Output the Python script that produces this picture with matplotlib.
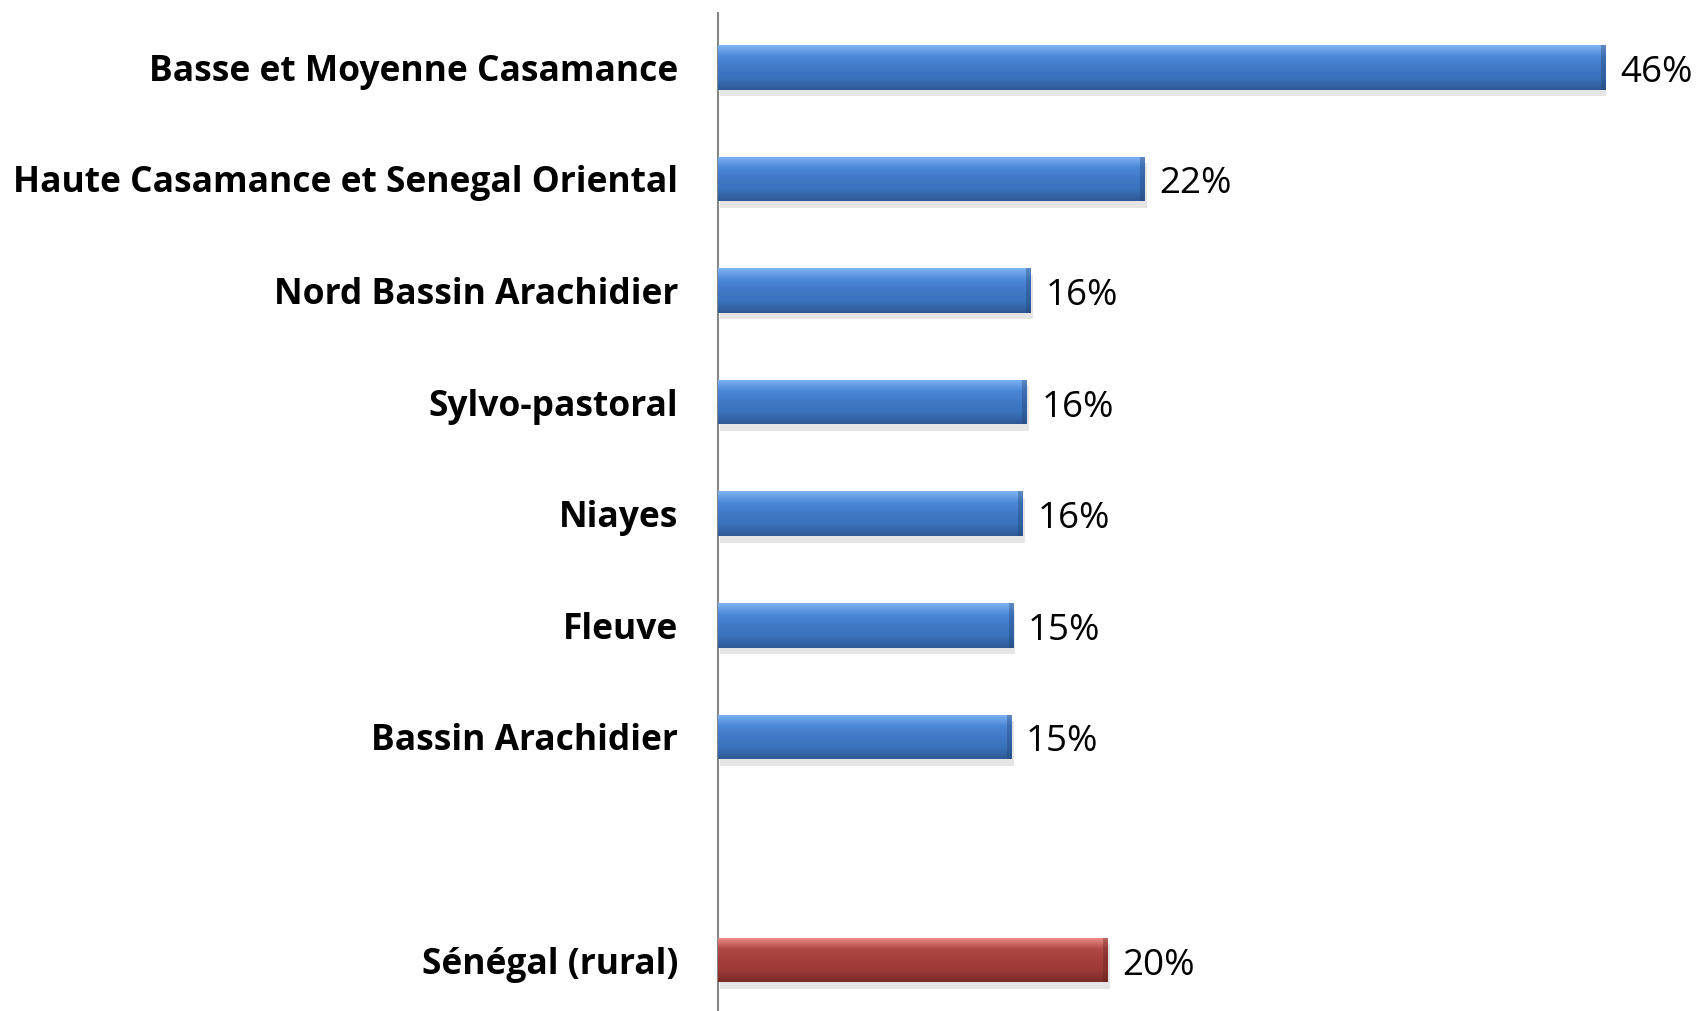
import matplotlib
matplotlib.use("Agg")
import matplotlib.pyplot as plt
import numpy as np
from matplotlib.colors import LinearSegmentedColormap
from matplotlib.patches import Rectangle

categories = ["Basse et Moyenne Casamance", "Haute Casamance et Senegal Oriental",
              "Nord Bassin Arachidier", "Sylvo-pastoral", "Niayes", "Fleuve",
              "Bassin Arachidier", "Sénégal (rural)"]
values = [46.0, 22.1, 16.2, 16.0, 15.8, 15.3, 15.2, 20.2]
labels = ["46%", "22%", "16%", "16%", "16%", "15%", "15%", "20%"]
positions = [0, 1, 2, 3, 4, 5, 6, 8]
is_total = [False] * 7 + [True]

fig = plt.figure(figsize=(16.99, 10.11), dpi=100)
ax = fig.add_axes([0.4228, 0.0, 0.9452 - 0.4228, 0.987])

blue_cmap = LinearSegmentedColormap.from_list("b", ["#7DB4F2", "#4C88D8", "#4079C6", "#3A72BA", "#2E5A96"])
red_cmap = LinearSegmentedColormap.from_list("r", ["#F0908C", "#B14B48", "#A33E3B", "#9C3A37", "#7A2A28"])

h = 0.40
grad = np.linspace(0, 1, 64).reshape(-1, 1)
bars = ax.barh(positions, values, height=h, color=["#A33E3B" if t else "#3C76C2" for t in is_total],
               edgecolor="none", zorder=2)
for b, t in zip(bars, is_total):
    x0, y0 = b.get_x(), b.get_y()
    w, hh = b.get_width(), b.get_height()
    sh = Rectangle((x0 + 0.1, y0 + 0.06), w, hh, facecolor="#000000", alpha=0.10,
                   edgecolor="none", zorder=1)
    ax.add_patch(sh)
    im = ax.imshow(grad, cmap=red_cmap if t else blue_cmap, aspect="auto",
                   extent=(x0, x0 + w, y0 + hh, y0), zorder=3, interpolation="bilinear")
    im.set_clip_path(b)
    edge = Rectangle((x0 + w - 0.25, y0), 0.25, hh, facecolor="#1F3F6E" if not t else "#5E1E1C",
                     alpha=0.35, edgecolor="none", zorder=4)
    ax.add_patch(edge)

for p, v, lab in zip(positions, values, labels):
    ax.text(v + 0.75, p + 0.05, lab, va="center", ha="left", fontsize=26.5,
            family="Open Sans", color="black", clip_on=False)

ax.set_xlim(0, 46)
ax.set_ylim(8.456, -0.485)
ax.set_yticks(positions)
ax.set_yticklabels(categories, fontsize=25.5, fontweight="bold", family="Open Sans")
ax.tick_params(axis="y", length=0, pad=29)
ax.set_xticks([])
for s in ["top", "right", "bottom"]:
    ax.spines[s].set_visible(False)
ax.spines["left"].set_color("#868686")
ax.spines["left"].set_linewidth(1.5)
ax.set_facecolor("none")

fig.savefig("out.png", dpi=100)
